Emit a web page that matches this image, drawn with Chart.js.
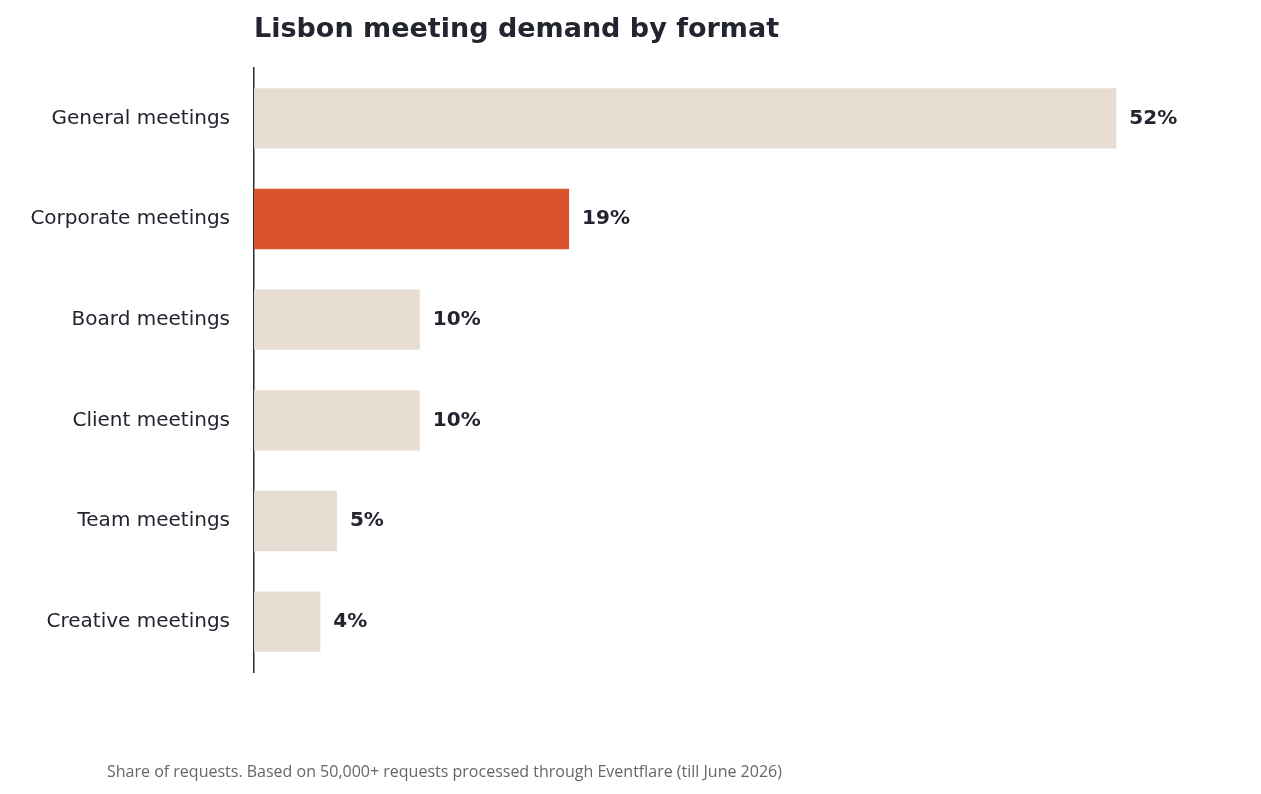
<!DOCTYPE html>
<html><head><meta charset="utf-8">
<script src="https://cdn.jsdelivr.net/npm/chart.js@4/dist/chart.umd.min.js"></script>
<style>
body{margin:0;background:#fff;}
#wrap{position:relative;width:1261px;height:794px;}
#t{position:absolute;left:254px;top:12px;font:bold 27px "DejaVu Sans",sans-serif;color:#22252f;}
#f{position:absolute;left:107px;top:760px;font:16px "Open Sans",sans-serif;color:#666;}
canvas{position:absolute;left:0;top:0;}
</style></head><body>
<div id="wrap"><canvas id="c" width="1261" height="794"></canvas>
<div id="t">Lisbon meeting demand by format</div>
<div id="f">Share of requests. Based on 50,000+ requests processed through Eventflare (till June 2026)</div></div>
<script>
const categories=["General meetings","Corporate meetings","Board meetings","Client meetings","Team meetings","Creative meetings"];
const shares=[52,19,10,10,5,4];
const highlight="Corporate meetings";
const labelsPlugin={id:'vl',afterDatasetsDraw(ch){const ctx=ch.ctx;const m=ch.getDatasetMeta(0);ctx.save();ctx.font='bold 20px "DejaVu Sans", sans-serif';ctx.fillStyle='#22252f';ctx.textBaseline='middle';m.data.forEach((b,i)=>{ctx.fillText(shares[i]+'%',b.x+13,b.y);});ctx.restore();}};
new Chart(document.getElementById('c'),{type:'bar',
data:{labels:categories,datasets:[{data:shares,backgroundColor:categories.map(c=>c===highlight?'#d9532b':'#e7ddd3'),barPercentage:0.6,categoryPercentage:1}]},
options:{indexAxis:'y',responsive:false,animation:false,
layout:{padding:{top:68,bottom:122,left:0,right:12}},
plugins:{legend:{display:false},tooltip:{enabled:false}},
scales:{x:{display:false,min:0,max:60},
y:{afterFit(s){s.width=254;},grid:{display:false},border:{display:true,color:'#2a2a3a',width:1.5},
ticks:{padding:16,color:'#22252f',font:{family:'"DejaVu Sans", sans-serif',size:20}}}}},
plugins:[labelsPlugin]});
</script></body></html>
